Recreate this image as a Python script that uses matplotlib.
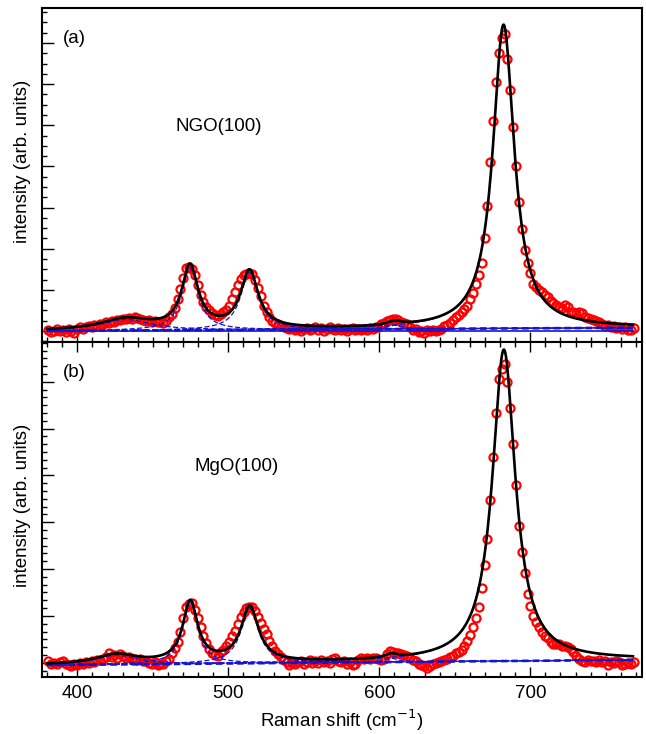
import numpy as np
import matplotlib
matplotlib.use('Agg')
import matplotlib.pyplot as plt
from matplotlib.ticker import MultipleLocator

plt.rcParams['font.family'] = ['Liberation Sans', 'DejaVu Sans']

# Raman shift grid of the measured points (cm^-1)
shift = 380.9 + 1.9 * np.arange(205)

# measured intensity, NGO(100) substrate (arb. units)
ngo_counts = [
    0.03, -0.02, 0.01, 0.04, 0.00, 0.03, -0.03, 0.05, 0.00, -0.04,
    0.06, 0.09, 0.05, 0.10, 0.12, 0.09, 0.14, 0.13, 0.17, 0.16,
    0.21, 0.20, 0.24, 0.23, 0.27, 0.26, 0.30, 0.28, 0.32, 0.30,
    0.34, 0.31, 0.29, 0.27, 0.25, 0.26, 0.23, 0.25, 0.21, 0.23,
    0.20, 0.24, 0.33, 0.42, 0.55, 0.77, 1.02, 1.30, 1.52, 1.55,
    1.50, 1.36, 1.12, 0.88, 0.70, 0.58, 0.50, 0.44, 0.40, 0.36,
    0.42, 0.45, 0.52, 0.62, 0.78, 0.95, 1.12, 1.27, 1.35, 1.38,
    1.42, 1.38, 1.25, 1.05, 0.84, 0.62, 0.45, 0.33, 0.25, 0.20,
    0.16, 0.12, 0.10, 0.07, 0.05, 0.08, 0.03, 0.06, 0.01, 0.05,
    0.08, 0.02, 0.06, 0.09, 0.03, 0.07, 0.01, 0.05, 0.09, 0.04,
    0.02, 0.07, 0.03, 0.06, 0.00, 0.04, 0.08, 0.03, 0.06, 0.02,
    0.05, 0.03, 0.07, 0.05, 0.09, 0.10, 0.16, 0.20, 0.24, 0.26,
    0.28, 0.30, 0.26, 0.22, 0.20, 0.18, 0.10, 0.02, 0.04, -0.02,
    0.01, -0.04, 0.02, -0.01, 0.03, 0.00, 0.02, 0.04, 0.12, 0.15,
    0.19, 0.27, 0.35, 0.40, 0.47, 0.54, 0.62, 0.78, 0.93, 1.14,
    1.35, 1.65, 2.27, 3.03, 4.10, 5.11, 6.06, 6.76, 7.13, 7.21,
    6.62, 5.86, 4.96, 4.02, 3.13, 2.49, 1.96, 1.65, 1.40, 1.15,
    1.07, 0.99, 0.95, 0.88, 0.83, 0.74, 0.68, 0.63, 0.59, 0.56,
    0.63, 0.58, 0.47, 0.45, 0.44, 0.47, 0.43, 0.35, 0.31, 0.29,
    0.27, 0.25, 0.23, 0.18, 0.12, 0.14, 0.10, 0.12, 0.07, 0.09,
    0.05, 0.10, 0.03, 0.02, 0.07,
]

# measured intensity, MgO(100) substrate (arb. units)
mgo_counts = [
    0.04, -0.03, 0.00, -0.02, 0.02, 0.03, -0.02, -0.05, -0.07, -0.03,
    -0.05, 0.00, -0.02, 0.02, 0.00, 0.04, 0.02, 0.06, 0.05, 0.09,
    0.12, 0.21, 0.13, 0.16, 0.11, 0.18, 0.15, 0.10, 0.13, 0.07,
    0.09, 0.05, 0.07, 0.03, 0.04, 0.00, -0.03, 0.02, -0.04, -0.02,
    -0.03, 0.03, 0.07, 0.20, 0.32, 0.45, 0.66, 0.95, 1.19, 1.25,
    1.27, 1.12, 0.96, 0.76, 0.57, 0.42, 0.30, 0.20, 0.16, 0.14,
    0.22, 0.27, 0.35, 0.45, 0.56, 0.67, 0.83, 0.97, 1.08, 1.16,
    1.19, 1.18, 1.10, 0.97, 0.84, 0.72, 0.62, 0.47, 0.35, 0.25,
    0.18, 0.12, 0.06, 0.02, -0.04, 0.00, -0.03, 0.02, 0.03, -0.02,
    0.01, 0.05, -0.01, 0.03, 0.00, 0.06, 0.02, 0.04, -0.01, 0.07,
    0.10, 0.04, 0.01, 0.03, -0.02, 0.01, -0.04, -0.03, 0.05, 0.10,
    0.08, 0.11, 0.09, 0.11, 0.10, 0.07, 0.06, 0.09, 0.18, 0.24,
    0.22, 0.21, 0.20, 0.18, 0.16, 0.14, 0.10, 0.06, 0.03, -0.03,
    -0.05, -0.08, -0.11, -0.06, -0.03, -0.01, 0.01, 0.03, 0.05, 0.08,
    0.12, 0.15, 0.20, 0.23, 0.28, 0.36, 0.47, 0.60, 0.77, 0.95,
    1.18, 1.60, 2.08, 2.65, 3.47, 4.39, 5.34, 6.06, 6.28, 6.37,
    5.99, 5.43, 4.68, 3.80, 2.93, 2.37, 1.92, 1.47, 1.22, 1.00,
    0.86, 0.76, 0.66, 0.58, 0.52, 0.45, 0.39, 0.40, 0.40, 0.36,
    0.35, 0.33, 0.29, 0.22, 0.14, 0.09, 0.04, 0.02, 0.06, 0.04,
    0.03, 0.01, 0.06, 0.02, 0.04, -0.04, 0.01, 0.00, 0.03, 0.02,
    -0.04, -0.02, 0.00, -0.03, 0.01,
]

# fitted Lorentzian components: (centre, height, half width at half max)
ngo_peaks = [(432.0, 0.27, 20.0), (474.6, 1.52, 6.5), (514.0, 1.40, 7.0),
             (610.0, 0.09, 6.0), (682.3, 7.38, 8.6)]
ngo_background = (0.0, 0.08)   # linear background at 380 and 768 cm^-1
mgo_peaks = [(426.0, 0.20, 16.0), (474.8, 1.30, 6.0), (514.2, 1.18, 7.0),
             (608.0, 0.08, 5.0), (682.5, 6.65, 9.2)]
mgo_background = (-0.05, 0.06)

panels = [
    ('(a)', 'NGO(100)', ngo_counts, ngo_peaks, ngo_background, (-0.267, 7.85), 0.25, 0.54, True),
    ('(b)', 'MgO(100)', mgo_counts, mgo_peaks, mgo_background, (-0.305, 6.85), 1 / 6, 0.513, False),
]

BLUE = '#1414d2'


def lorentz(x, c, a, w):
    return a / (1.0 + ((x - c) / w) ** 2)


fig = plt.figure(figsize=(6.46, 7.34), dpi=100)
ax_top = fig.add_axes([0.06455, 0.53406, 0.92879, 0.45504])
ax_bot = fig.add_axes([0.06455, 0.07766, 0.92879, 0.45640])

xf = np.linspace(380, 768, 900)

for ax, (tag, sample, counts, peaks, bgr, ylim, yminor, ylab_y, is_top) in zip([ax_top, ax_bot], panels):
    bg = bgr[0] + (bgr[1] - bgr[0]) * (xf - 380) / 388
    total = bg.copy()

    ax.plot(shift, counts, 'o', mfc='none', mec='#ff0000', ms=5.8, mew=1.6, zorder=2)

    if is_top:
        ax.plot([380, 768], [0, 0], color=BLUE, lw=1.2, zorder=3)
    ax.plot(xf, bg, color=BLUE, lw=1.9, ls=(0, (2.5, 1.5)), zorder=3)
    for c, a, w in peaks:
        comp = lorentz(xf, c, a, w)
        total += comp
        ax.plot(xf, bg + comp, color=BLUE, lw=0.9, ls=(0, (4, 2)), zorder=3)

    ax.plot(xf, total, color='black', lw=1.9, zorder=4)

    ax.set_xlim(376.4, 773.8)
    ax.set_ylim(*ylim)
    ax.xaxis.set_major_locator(MultipleLocator(100))
    ax.xaxis.set_minor_locator(MultipleLocator(10))
    ax.yaxis.set_major_locator(MultipleLocator(1))
    ax.yaxis.set_minor_locator(MultipleLocator(yminor))
    ax.tick_params(axis='both', which='both', direction='in', width=1.0,
                   right=False, labelleft=False)
    ax.tick_params(axis='x', which='major', length=7)
    ax.tick_params(axis='x', which='minor', length=3.6)
    ax.tick_params(axis='y', which='major', length=8.5)
    ax.tick_params(axis='y', which='minor', length=3.6)
    for sp in ax.spines.values():
        sp.set_linewidth(1.5)

    ax.set_ylabel('intensity (arb. units)', fontsize=13.5)
    ax.yaxis.set_label_coords(-0.017, ylab_y)

    ax.text(0.0355, 0.91, tag, transform=ax.transAxes, fontsize=13.5, va='center', ha='left')

ax_top.text(0.223, 0.645, 'NGO(100)', transform=ax_top.transAxes, fontsize=13.5, va='center', ha='left')
ax_bot.text(0.254, 0.628, 'MgO(100)', transform=ax_bot.transAxes, fontsize=13.5, va='center', ha='left')

ax_top.tick_params(axis='x', which='both', top=False, labelbottom=False)
ax_bot.tick_params(axis='x', which='both', top=True, bottom=True, labelsize=13.5, pad=6)
ax_bot.set_xlabel('Raman shift (cm$^{-1}$)', fontsize=13.5, labelpad=4)

fig.savefig('out.png', dpi=100)
